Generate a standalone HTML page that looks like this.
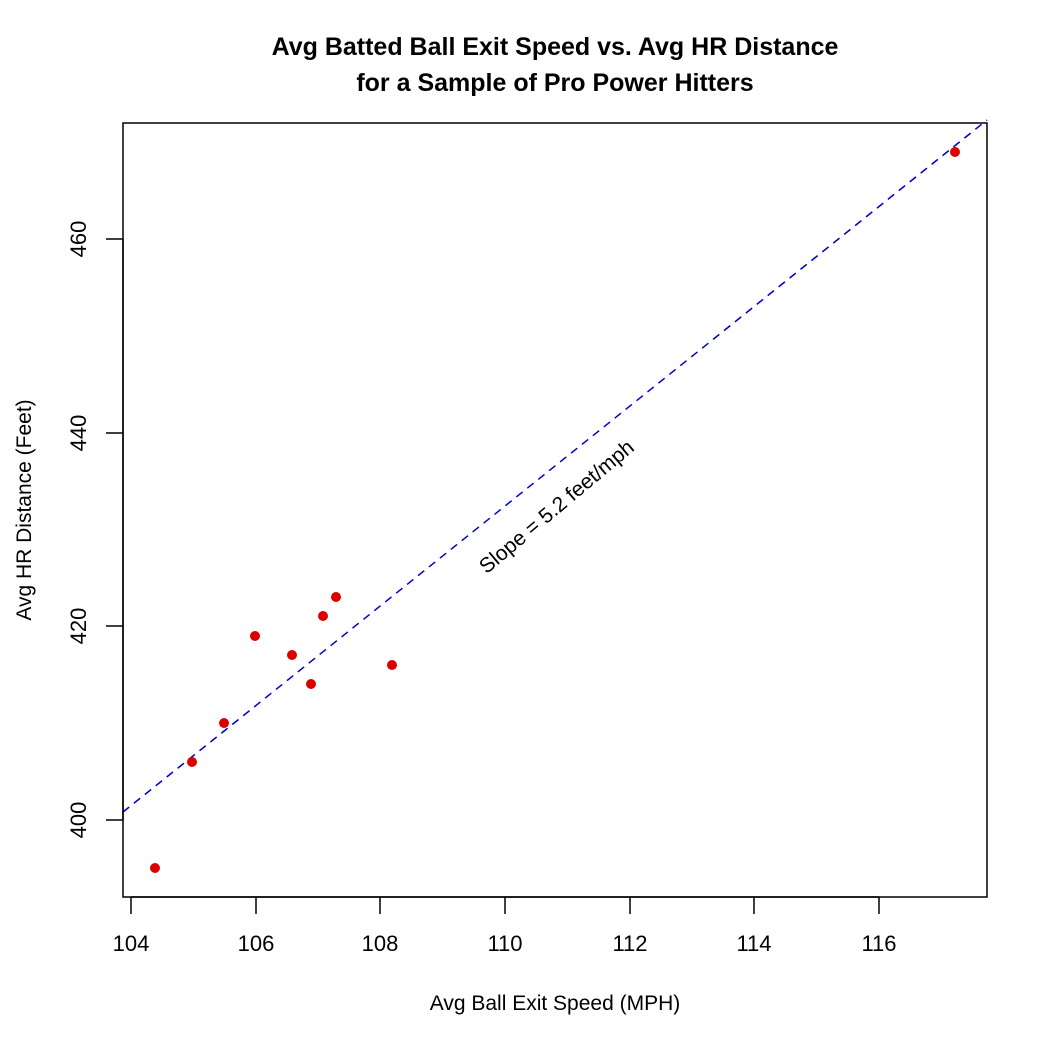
<!DOCTYPE html>
<html><head><meta charset="utf-8"><style>body{margin:0;background:#fff}</style></head><body>
<svg width="1050" height="1050" xmlns="http://www.w3.org/2000/svg" font-family="Liberation Sans, sans-serif">
<rect width="1050" height="1050" fill="#fff"/>
<text x="555" y="55" text-anchor="middle" font-size="25" font-weight="bold">Avg Batted Ball Exit Speed vs. Avg HR Distance</text>
<text x="555" y="91" text-anchor="middle" font-size="25" font-weight="bold">for a Sample of Pro Power Hitters</text>
<rect x="123" y="123" width="864" height="774" fill="none" stroke="#000" stroke-width="1.5"/>
<line x1="123" y1="812" x2="987" y2="120" stroke="#0000cc" stroke-width="1.5" stroke-dasharray="8,6"/>
<g fill="none" stroke="#000" stroke-width="1.5">
<line x1="131" y1="897" x2="879" y2="897"/>
<line x1="131" y1="897" x2="131" y2="914"/><line x1="256" y1="897" x2="256" y2="914"/><line x1="380" y1="897" x2="380" y2="914"/><line x1="505" y1="897" x2="505" y2="914"/><line x1="630" y1="897" x2="630" y2="914"/><line x1="754" y1="897" x2="754" y2="914"/><line x1="879" y1="897" x2="879" y2="914"/>
<line x1="123" y1="820" x2="123" y2="239"/>
<line x1="106" y1="820" x2="123" y2="820"/><line x1="106" y1="626" x2="123" y2="626"/><line x1="106" y1="433" x2="123" y2="433"/><line x1="106" y1="239" x2="123" y2="239"/>
</g>
<g font-size="22" text-anchor="middle">
<text x="131" y="951">104</text><text x="256" y="951">106</text><text x="380" y="951">108</text><text x="505" y="951">110</text><text x="630" y="951">112</text><text x="754" y="951">114</text><text x="879" y="951">116</text>
<text transform="translate(86,820) rotate(-90)">400</text>
<text transform="translate(86,626) rotate(-90)">420</text>
<text transform="translate(86,433) rotate(-90)">440</text>
<text transform="translate(86,239) rotate(-90)">460</text>
<text x="555" y="1010" font-size="21">Avg Ball Exit Speed (MPH)</text>
<text transform="translate(31,510) rotate(-90)" font-size="21">Avg HR Distance (Feet)</text>
<text transform="translate(561,512) rotate(-40)" font-size="21">Slope = 5.2 feet/mph</text>
</g>
<g fill="#dd0000">
<circle cx="155" cy="868" r="5"/><circle cx="192" cy="762" r="5"/><circle cx="224" cy="723" r="5"/><circle cx="255" cy="636" r="5"/><circle cx="292" cy="655" r="5"/><circle cx="311" cy="684" r="5"/><circle cx="323" cy="616" r="5"/><circle cx="336" cy="597" r="5"/><circle cx="392" cy="665" r="5"/><circle cx="955" cy="152" r="5"/>
</g>
</svg>
</body></html>
